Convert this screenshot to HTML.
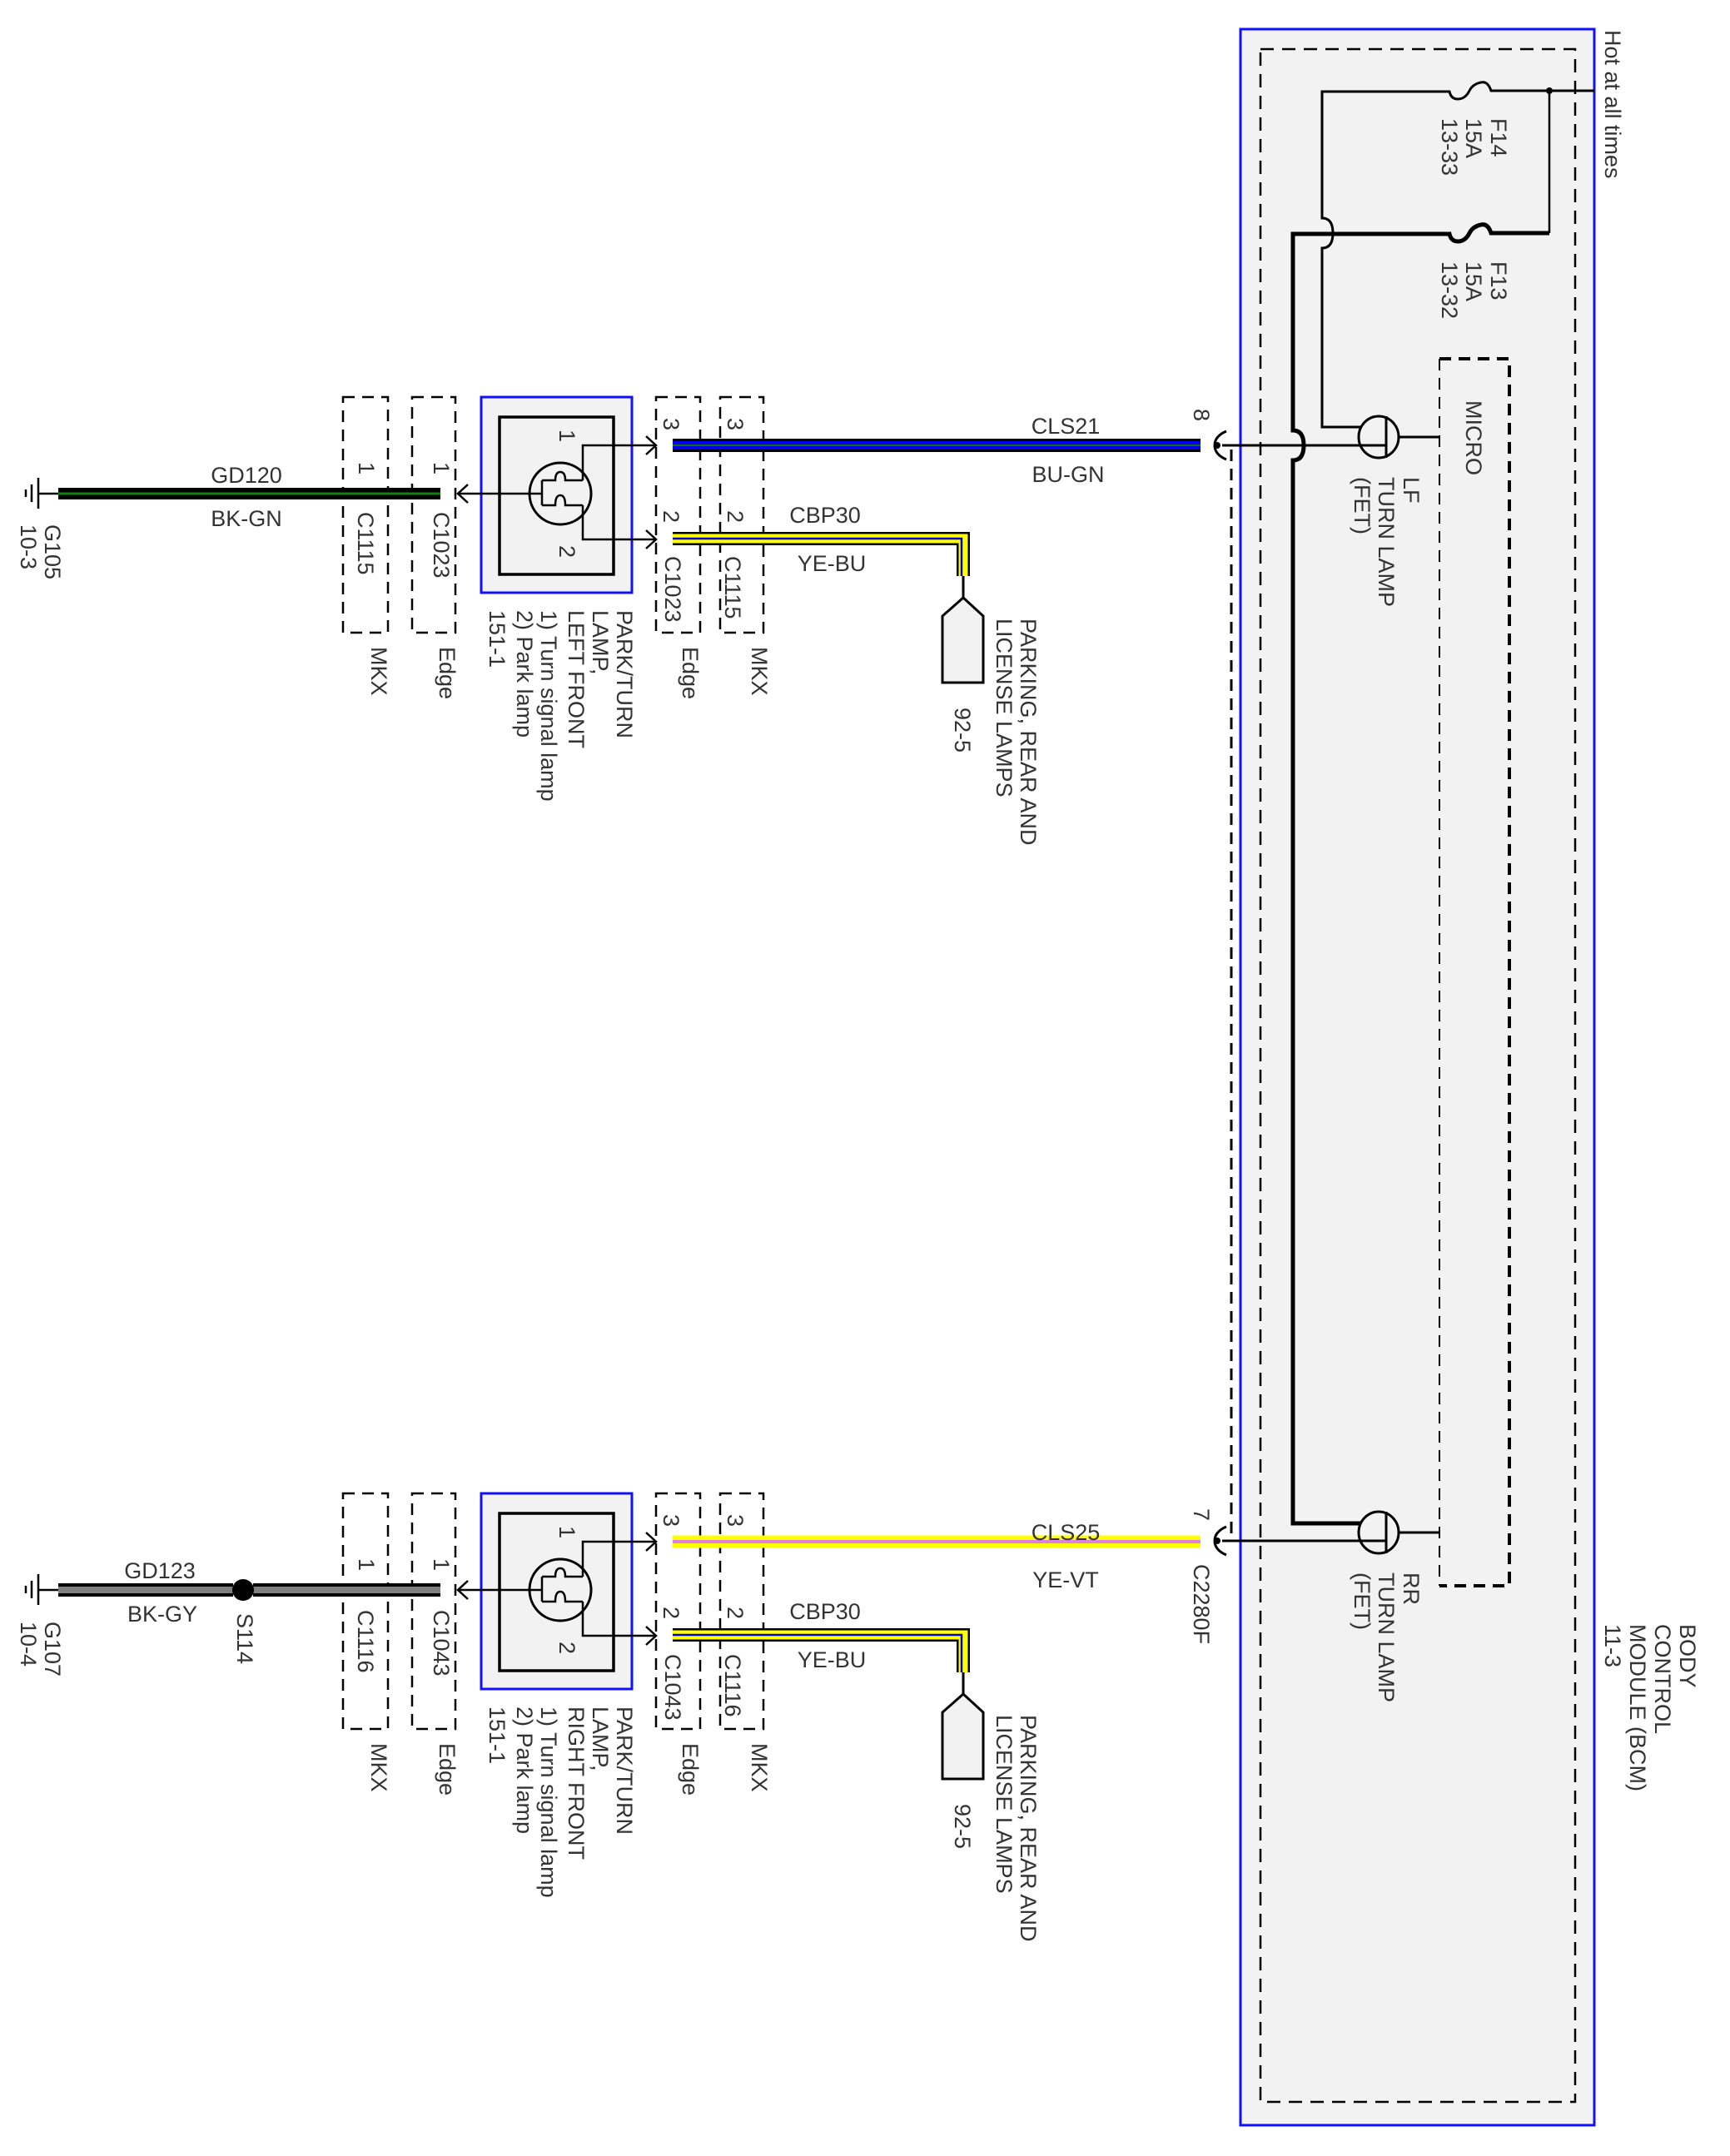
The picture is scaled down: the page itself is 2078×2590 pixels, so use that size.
<!DOCTYPE html>
<html><head><meta charset="utf-8"><style>
html,body{margin:0;padding:0;background:#fff;}
svg{display:block;}
text{font-family:"Liberation Sans",sans-serif;font-size:27px;fill:#333;}
</style></head><body>
<svg width="2078" height="2590" viewBox="0 0 2078 2590" xmlns="http://www.w3.org/2000/svg">
<defs>
<g id="lampblock">
  <!-- dashed connector boxes -->
  <g fill="none" stroke="#000" stroke-width="2.5" stroke-dasharray="14,9">
    <rect x="412" y="477" width="54" height="283"/>
    <rect x="495" y="477" width="52" height="283"/>
    <rect x="788" y="477" width="53" height="283"/>
    <rect x="865" y="477" width="52" height="283"/>
  </g>
  <!-- lamp box -->
  <rect x="578" y="477" width="181" height="235" fill="#f2f2f2" stroke="#1010ff" stroke-width="3"/>
  <rect x="600" y="501" width="137" height="189" fill="#f2f2f2" stroke="#000" stroke-width="3.5"/>
  <circle cx="673" cy="593" r="37" fill="#f2f2f2" stroke="#000" stroke-width="3"/>
  <g fill="none" stroke="#000" stroke-width="2.5">
    <path d="M551 593 H651 M651 577 V607 M651 577 H667 q0 -10 6 -10 q6 0 6 10 H700 M651 607 H667 q0 -12 6 -12 q6 0 6 12 H700"/>
    <path d="M700 577 V535 H786 M700 607 V648 H786"/>
    <path d="M776 524 L788 535 L776 546 M776 637 L788 648 L776 659"/>
    <path d="M562 582 L550 593 L562 604"/>
    <path d="M46 574 V611 M38 582 V603 M31 588 V597 M46 593 H70"/>
  </g>
  <!-- CBP30 wire -->
  <path d="M808 647 H1157 V692" fill="none" stroke="#000" stroke-width="16"/>
  <path d="M808 647 H1157 V692" fill="none" stroke="#ffff00" stroke-width="11"/>
  <path d="M808 647 H1155 V692" fill="none" stroke="#0000e0" stroke-width="2.5"/>
  <path d="M1157 692 V718" stroke="#000" stroke-width="3"/>
  <path d="M1132 820 V740 L1157 718 L1181 740 V820 Z" fill="#f2f2f2" stroke="#000" stroke-width="3"/>
  <text x="991" y="628" text-anchor="middle">CBP30</text>
  <text x="999" y="686" text-anchor="middle">YE-BU</text>
  <!-- pin numbers -->
  <g font-size="24">
    <text transform="translate(672,516) rotate(90)">1</text>
    <text transform="translate(672,655) rotate(90)">2</text>
    <text transform="translate(797,502) rotate(90)">3</text>
    <text transform="translate(874,502) rotate(90)">3</text>
    <text transform="translate(797,613) rotate(90)">2</text>
    <text transform="translate(874,613) rotate(90)">2</text>
    <text transform="translate(431,555) rotate(90)">1</text>
    <text transform="translate(521,555) rotate(90)">1</text>
  </g>
  <text transform="translate(446,777) rotate(90)">MKX</text>
  <text transform="translate(528,777) rotate(90)">Edge</text>
  <text transform="translate(820,777) rotate(90)">Edge</text>
  <text transform="translate(903,777) rotate(90)">MKX</text>
  <text transform="translate(1226,743) rotate(90)">PARKING, REAR AND</text>
  <text transform="translate(1197,743) rotate(90)">LICENSE LAMPS</text>
  <text transform="translate(1147,850) rotate(90)">92-5</text>
  <text transform="translate(741,733) rotate(90)">PARK/TURN</text>
  <text transform="translate(712,733) rotate(90)">LAMP,</text>
  <text transform="translate(650,733) rotate(90)">1) Turn signal lamp</text>
  <text transform="translate(621,733) rotate(90)">2) Park lamp</text>
  <text transform="translate(588,733) rotate(90)">151-1</text>
</g>
</defs>

<!-- BCM -->
<rect x="1490" y="35" width="425" height="2518" fill="#f2f2f2" stroke="#1010ff" stroke-width="3"/>
<rect x="1514" y="59" width="378" height="2466" fill="none" stroke="#000" stroke-width="2.5" stroke-dasharray="16,10"/>
<text transform="translate(1928,36) rotate(90)">Hot at all times</text>

<!-- MICRO box -->
<path d="M1729 431 V1905" stroke="#000" stroke-width="2" stroke-dasharray="14,9" fill="none"/>
<path d="M1729 431 H1813 V1905 H1729" stroke="#000" stroke-width="4" stroke-dasharray="14,9" fill="none"/>
<text transform="translate(1761,481) rotate(90)">MICRO</text>

<!-- fuses and feeds -->
<g fill="none" stroke="#000">
  <path d="M1915 109 H1791 q-4 -12 -12 -10 q-10 2 -14 10 q-5 10 -14 10 q-8 0 -10 -9 H1588 V262 q13 0 13 18 q0 18 -13 18 V513 H1634" stroke-width="3"/>
  <path d="M1861 109 V280" stroke-width="2.5"/>
  <path d="M1861 280 H1791 q-4 -12 -12 -10 q-10 2 -14 10 q-5 10 -14 10 q-8 0 -10 -9 H1553 V517 q13 0 13 18 q0 18 -13 18 V1830 H1634" stroke-width="5"/>
</g>
<circle cx="1861" cy="109" r="4" fill="#000"/>
<text transform="translate(1791,142) rotate(90)">F14</text>
<text transform="translate(1761,142) rotate(90)">15A</text>
<text transform="translate(1732,142) rotate(90)">13-33</text>
<text transform="translate(1791,314) rotate(90)">F13</text>
<text transform="translate(1761,314) rotate(90)">15A</text>
<text transform="translate(1732,314) rotate(90)">13-32</text>

<!-- LF FET -->
<g fill="none" stroke="#000" stroke-width="3">
  <ellipse cx="1656" cy="525" rx="24" ry="25"/>
  <path d="M1665 500 V550 M1680 525 H1729"/>
  <path d="M1468 535 H1665"/>
  <path d="M1473 518 q-14 6 -14 17 q0 11 14 17"/>
  <ellipse cx="1656" cy="1841" rx="24" ry="25"/>
  <path d="M1665 1816 V1866 M1680 1841 H1729"/>
  <path d="M1468 1851 H1665"/>
  <path d="M1473 1834 q-14 6 -14 17 q0 11 14 17"/>
</g>
<circle cx="1462" cy="535" r="4" fill="#000"/>
<circle cx="1462" cy="1851" r="4" fill="#000"/>
<path d="M1479 540 V1846" stroke="#000" stroke-width="3" stroke-dasharray="14,9"/>
<text transform="translate(1686,573) rotate(90)">LF</text>
<text transform="translate(1656,573) rotate(90)">TURN LAMP</text>
<text transform="translate(1627,573) rotate(90)">(FET)</text>
<text transform="translate(1686,1889) rotate(90)">RR</text>
<text transform="translate(1656,1889) rotate(90)">TURN LAMP</text>
<text transform="translate(1627,1889) rotate(90)">(FET)</text>
<text transform="translate(2018,1951) rotate(90)">BODY</text>
<text transform="translate(1988,1951) rotate(90)">CONTROL</text>
<text transform="translate(1958,1951) rotate(90)">MODULE (BCM)</text>
<text transform="translate(1928,1951) rotate(90)">11-3</text>
<text transform="translate(1434,491) rotate(90)" font-size="24">8</text>
<text transform="translate(1434,1812) rotate(90)" font-size="24">7</text>
<text transform="translate(1434,1879) rotate(90)">C2280F</text>

<!-- Upper block -->
<use href="#lampblock"/>
<path d="M70 593 H529" stroke="#000" stroke-width="14"/>
<path d="M70 593 H529" stroke="#108010" stroke-width="3"/>
<path d="M808 535 H1442" stroke="#000" stroke-width="16"/>
<path d="M808 535 H1442" stroke="#0000f0" stroke-width="10"/>
<path d="M808 535 H1442" stroke="#107010" stroke-width="2"/>
<text x="296" y="580" text-anchor="middle">GD120</text>
<text x="296" y="632" text-anchor="middle">BK-GN</text>
<text x="1280" y="521" text-anchor="middle">CLS21</text>
<text x="1283" y="579" text-anchor="middle">BU-GN</text>
<text transform="translate(430,615) rotate(90)">C1115</text>
<text transform="translate(521,615) rotate(90)">C1023</text>
<text transform="translate(799,668) rotate(90)">C1023</text>
<text transform="translate(871,668) rotate(90)">C1115</text>
<text transform="translate(683,733) rotate(90)">LEFT FRONT</text>
<text transform="translate(54,630) rotate(90)">G105</text>
<text transform="translate(25,630) rotate(90)">10-3</text>

<!-- Lower block -->
<use href="#lampblock" transform="translate(0,1317)"/>
<path d="M70 1910 H280 M304 1910 H529" stroke="#000" stroke-width="16"/>
<path d="M70 1910 H280 M304 1910 H529" stroke="#808080" stroke-width="8"/>
<ellipse cx="292" cy="1910" rx="13" ry="13" fill="#000"/>
<path d="M808 1852 H1442" stroke="#ffff00" stroke-width="15"/>
<path d="M808 1852 H1442" stroke="#e080e0" stroke-width="4"/>
<text x="192" y="1896" text-anchor="middle">GD123</text>
<text x="195" y="1948" text-anchor="middle">BK-GY</text>
<text x="1280" y="1850" text-anchor="middle">CLS25</text>
<text x="1280" y="1907" text-anchor="middle">YE-VT</text>
<text transform="translate(285,1938) rotate(90)">S114</text>
<text transform="translate(430,1934) rotate(90)">C1116</text>
<text transform="translate(521,1934) rotate(90)">C1043</text>
<text transform="translate(799,1987) rotate(90)">C1043</text>
<text transform="translate(871,1987) rotate(90)">C1116</text>
<text transform="translate(683,2050) rotate(90)">RIGHT FRONT</text>
<text transform="translate(54,1948) rotate(90)">G107</text>
<text transform="translate(25,1948) rotate(90)">10-4</text>
</svg>
</body></html>
